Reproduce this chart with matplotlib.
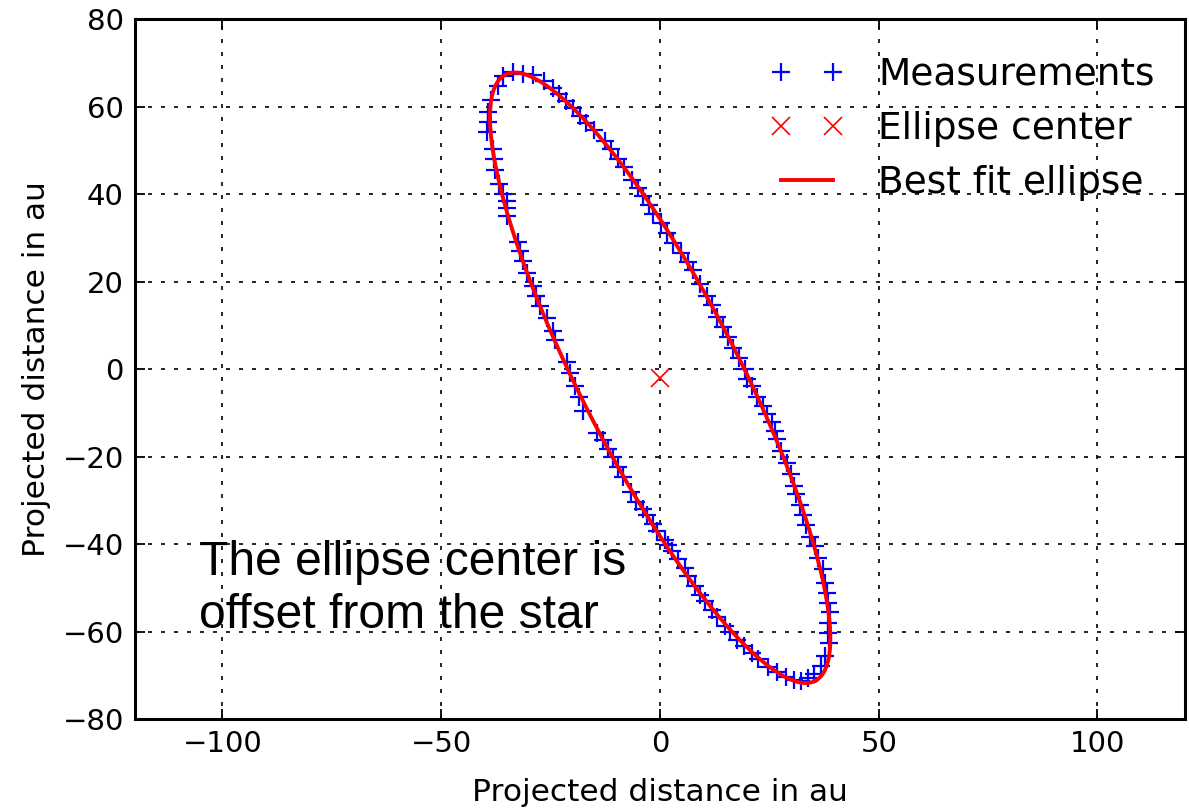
import numpy as np
import matplotlib
matplotlib.use('Agg')
import matplotlib.pyplot as plt
from matplotlib.lines import Line2D

# projected positions (au), going round the orbit
meas_x = [-6.5, -5.0, -3.8, -2.6, -1.5, 0.2, 1.5, 3.0, 4.9, 6.5, 7.6, 9.1, 10.7, 11.8,
          13.0, 14.3, 15.6, 16.6, 18.1, 19.4, 20.0, 21.0, 22.2, 23.5, 24.4, 25.5, 26.3,
          26.7, 27.6, 29.0, 29.9, 30.6, 31.2, 32.0, 32.8, 33.4, 34.3, 35.4, 36.2, 37.3,
          37.7, 38.1, 38.5, 38.8, 38.4, 38.5, 38.6, 37.7, 36.8, 35.3, 33.8, 32.2, 30.6,
          28.9, 26.7, 24.8, 22.5, 21.0, 19.1, 17.5, 16.0, 14.9, 13.0, 11.8, 10.3, 9.2,
          8.0, 6.5, 5.7, 4.2, 2.7, 1.9, 1.1, -0.6, -1.5, -2.9, -3.8, -5.5, -6.7, -8.4,
          -9.5, -10.7, -11.8, -13.1, -14.3, -17.7, -18.4, -19.5, -20.6, -21.2, -24.0,
          -24.4, -25.8, -27.4, -28.3, -29.0, -30.5, -31.4, -32.0, -32.4, -35.0, -34.9,
          -35.0, -35.8, -36.7, -37.7, -37.9, -38.2, -39.6, -39.2, -39.2, -38.7, -37.0,
          -35.8, -33.5, -31.2, -29.0, -26.5, -24.5, -23.0, -21.5, -19.8, -18.3, -16.8,
          -15.1, -12.6, -11.1, -9.5, -8.2]
meas_y = [43.2, 41.3, 39.5, 37.4, 35.5, 33.4, 31.2, 28.8, 26.5, 24.5, 22.6, 19.4, 16.8, 14.6,
          11.9, 9.6, 7.3, 4.8, 2.5, 0.0, -2.3, -3.8, -6.3, -8.5, -10.3, -12.2, -14.1,
          -16.0, -18.7, -21.4, -24.1, -26.7, -28.6, -31.0, -33.3, -35.6, -38.3, -40.5,
          -43.2, -45.8, -48.9, -51.2, -53.5, -55.6, -58.0, -60.3, -62.6, -65.5, -67.8,
          -69.6, -70.6, -71.2, -71.1, -70.4, -69.2, -68.0, -66.3, -65.0, -63.4, -61.9,
          -60.0, -58.8, -56.7, -55.0, -53.1, -51.6, -49.6, -47.4, -45.5, -43.5, -41.6,
          -40.3, -39.0, -37.1, -35.5, -33.4, -32.1, -30.3, -28.0, -24.6, -22.3, -20.2,
          -18.2, -16.3, -14.7, -9.5, -6.5, -3.8, -0.9, 1.5, 6.7, 8.8, 11.6, 14.5, 16.8,
          19.0, 22.0, 24.8, 26.9, 29.0, 35.0, 36.7, 38.4, 40.1, 42.4, 45.6, 48.0, 50.3,
          54.1, 56.5, 58.8, 61.4, 64.6, 66.9, 68.0, 67.4, 67.1, 65.9, 64.3, 62.8, 61.3,
          59.6, 57.9, 56.2, 54.6, 52.1, 50.3, 48.1, 46.2]

x = np.array(meas_x)
y = np.array(meas_y)

# least squares conic fit: a x^2 + b xy + c y^2 + d x + e y = 1
A = np.column_stack([x**2, x*y, y**2, x, y])
a, b, c, d, e = np.linalg.lstsq(A, np.ones_like(x), rcond=None)[0]
M = np.array([[a, b/2], [b/2, c]])
center = np.linalg.solve(2*M, -np.array([d, e]))
k = 1 + center @ M @ center
evals, evecs = np.linalg.eigh(M)
semi = np.sqrt(k / evals)
t = np.linspace(0, 2*np.pi, 500)
curve = evecs @ np.vstack([semi[0]*np.cos(t), semi[1]*np.sin(t)]) + center[:, None]

fig = plt.figure(figsize=(11.89, 8.09), dpi=100)
ax = fig.add_axes([0.1135, 0.1112, 0.8831, 0.8653])

ax.plot(x, y, 'b+', ms=13, mew=1.6, zorder=3)
ax.plot(center[0], center[1], 'rx', ms=13.5, mew=1.2, zorder=3)
ax.plot(curve[0], curve[1], 'r-', lw=2.8, zorder=4)

ax.set_xlim(-120, 120)
ax.set_ylim(-80, 80)
ax.set_xticks([-100, -50, 0, 50, 100])
ax.set_yticks(np.arange(-80, 81, 20))
ax.grid(True, color='k', linestyle=(0, (2.4, 5.4)), linewidth=1.2)
ax.tick_params(direction='in', top=True, right=True, length=7, width=1.3,
               labelsize=21, pad=8)
for sp in ax.spines.values():
    sp.set_linewidth(2.2)

ax.set_xlabel('Projected distance in au', fontsize=22.5, labelpad=14)
ax.set_ylabel('Projected distance in au', fontsize=22.5, labelpad=8)

ax.text(-105.3, -39.0, 'The ellipse center is\noffset from the star',
        family=['Liberation Sans', 'DejaVu Sans'], fontsize=34.6,
        ha='left', va='top', linespacing=1.24)

handles = [Line2D([], [], color='b', marker='+', ls='none', ms=13, mew=1.6),
           Line2D([], [], color='r', marker='x', ls='none', ms=13.5, mew=1.2),
           Line2D([], [], color='r', lw=2.8)]
ax.legend(handles, ['Measurements', 'Ellipse center', 'Best fit ellipse'],
          loc='upper right', bbox_to_anchor=(1.0, 0.989), numpoints=2,
          frameon=False, fontsize=27, handlelength=2.0, handletextpad=0.9,
          labelspacing=0.48, borderpad=0.35, borderaxespad=0.45)

fig.savefig('out.png', dpi=100)
